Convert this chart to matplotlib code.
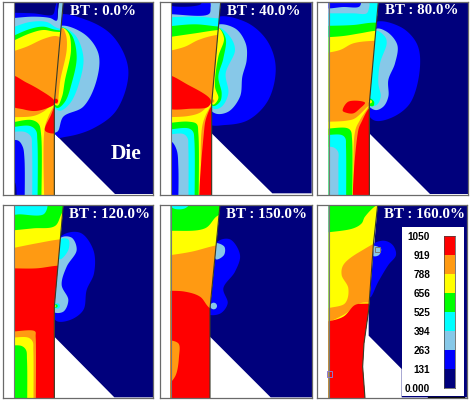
import numpy as np
import matplotlib
matplotlib.use("Agg")
import matplotlib.pyplot as plt
from matplotlib.patches import Polygon, Rectangle, Circle

W, H = 470, 401
LEVELS = [0.0, 131, 263, 394, 525, 656, 788, 919, 1050]
LEVEL_LABELS = ['0.000', '131', '263', '394', '525', '656', '788', '919', '1050']
COLORS = ['#00007c', '#0000ff', '#87c8e8', '#00ffff', '#00ff00', '#ffff00', '#ff9a12', '#ff0000']
NV, BL, LB, CY, GR, YE, OR, RE = range(8)

TITLES = ['BT : 0.0%', 'BT : 40.0%', 'BT : 80.0%', 'BT : 120.0%', 'BT : 150.0%', 'BT : 160.0%']
TITLE_POS = [(210, 34), (216, 34), (224, 32), (208, 44), (213, 43), (222, 44)]
CROPS = [(0, 0), (155, 0), (310, 0), (0, 200), (155, 200), (310, 200)]
FRAMES = [(8, 460, 5, 585), (14, 470, 5, 585), (22, 475, 5, 585),
          (8, 460, 15, 595), (14, 472, 15, 595), (22, 472, 15, 595)]

WP1 = [(42, 5), (190, 5), (163, 310), (163, 585), (42, 585)]
DIE1 = [(190, 5), (460, 5), (460, 582), (345, 582), (163, 400), (163, 310)]
WP_LAYERS1 = [
    ('b', BL, [(30, 38), (100, 40), (158, 44), (166, 20), (172, 0)]),
    ('b', LB, [(30, 55), (100, 50), (150, 54), (170, 62), (175, 25), (183, 0), (300, 0)]),
    ('b', CY, [(30, 85), (90, 66), (140, 66), (175, 85), (300, 92)]),
    ('b', GR, [(30, 112), (90, 87), (130, 80), (170, 90), (300, 94)]),
    ('b', YE, [(30, 127), (90, 100), (130, 90), (165, 95), (300, 100)]),
    ('b', OR, [(30, 157), (80, 140), (130, 117), (165, 108), (185, 112), (300, 130)]),
    ('b', YE, [(30, 352), (100, 348), (130, 335), (163, 310), (145, 350), (134, 385), (134, 700)]),
    ('b', GR, [(30, 368), (95, 360), (116, 372), (123, 400), (123, 700)]),
    ('b', CY, [(30, 382), (90, 378), (108, 392), (112, 420), (112, 700)]),
    ('b', LB, [(30, 396), (75, 396), (93, 410), (96, 440), (96, 700)]),
    ('b', BL, [(30, 420), (55, 422), (68, 440), (73, 470), (73, 700)]),
    ('b', NV, [(30, 540), (44, 545), (47, 700)]),
    ('o', RE, [(30, 226), (80, 248), (120, 270), (160, 298), (166, 310), (140, 325), (105, 333), (70, 328), (30, 314)]),
    ('o', RE, [(165, 320), (153, 345), (135, 392), (170, 398)]),
]
DIE_LAYERS1 = [
    ('o', BL, [(170, 48), (260, 60), (340, 110), (385, 210), (350, 330), (280, 385), (200, 410), (150, 410), (150, 200)]),
    ('o', LB, [(175, 80), (250, 100), (295, 160), (290, 240), (250, 320), (190, 350), (172, 395), (150, 395), (150, 200)]),
    ('o', CY, [(180, 82), (225, 105), (250, 170), (240, 240), (210, 310), (178, 332), (150, 300), (160, 150)]),
    ('o', GR, [(185, 83), (215, 105), (230, 170), (215, 250), (195, 305), (172, 324), (150, 300), (160, 150)]),
    ('o', YE, [(187, 84), (206, 100), (213, 150), (195, 240), (186, 290), (172, 317), (150, 290), (160, 150)]),
    ('o', OR, [(187, 84), (198, 105), (200, 150), (181, 240), (176, 285), (172, 312), (150, 290), (160, 150)]),
]
SPOTS1 = [(RE, 167, 303, 7)]

WP2 = [(48, 5), (197, 5), (170, 310), (170, 585), (48, 585)]
DIE2 = [(197, 5), (470, 5), (470, 580), (352, 580), (170, 400), (170, 310)]
WP_LAYERS2 = [
    ('b', BL, [(30, 0), (300, 0)]),
    ('o', NV, [(40, -5), (135, -5), (138, 12), (40, 14)]),
    ('b', LB, [(30, 42), (162, 42), (167, 20), (170, 0), (300, 0)]),
    ('b', CY, [(30, 52), (130, 50), (190, 55), (300, 56)]),
    ('b', GR, [(30, 80), (120, 73), (195, 80), (300, 84)]),
    ('b', YE, [(30, 113), (120, 100), (190, 90), (300, 85)]),
    ('b', OR, [(30, 156), (90, 140), (130, 120), (185, 105), (300, 100)]),
    ('b', YE, [(30, 352), (100, 348), (135, 338), (168, 312), (150, 350), (140, 390), (140, 700)]),
    ('b', GR, [(30, 370), (100, 365), (125, 372), (130, 400), (130, 700)]),
    ('b', CY, [(30, 390), (100, 385), (114, 395), (118, 420), (118, 700)]),
    ('b', LB, [(30, 405), (85, 402), (98, 415), (100, 440), (100, 700)]),
    ('b', BL, [(30, 420), (50, 425), (65, 450), (70, 500), (68, 700)]),
    ('o', RE, [(30, 226), (100, 255), (167, 300), (160, 320), (110, 326), (30, 320)]),
    ('o', RE, [(172, 318), (155, 350), (147, 395), (147, 700), (200, 700)]),
]
DIE_LAYERS2 = [
    ('o', BL, [(180, 55), (270, 65), (335, 120), (362, 200), (340, 300), (280, 360), (210, 375), (160, 370), (150, 200)]),
    ('o', LB, [(180, 78), (240, 85), (272, 130), (275, 180), (262, 230), (255, 290), (220, 335), (180, 340), (150, 300)]),
    ('o', CY, [(190, 84), (225, 110), (240, 150), (212, 220), (220, 280), (200, 320), (176, 326), (150, 250)]),
    ('o', GR, [(190, 84), (212, 115), (205, 175), (190, 230), (200, 280), (195, 305), (174, 318), (150, 250)]),
    ('o', YE, [(190, 84), (207, 115), (190, 170), (180, 260), (190, 295), (174, 314), (150, 250)]),
]
SPOTS2 = [(OR, 173, 303, 5)]

WP3 = [(56, 5), (205, 5), (178, 310), (178, 585), (56, 585)]
DIE3 = [(205, 5), (475, 5), (475, 582), (360, 582), (178, 400), (178, 310)]
WP_LAYERS3 = [
    ('b', LB, [(30, 0), (300, 0)]),
    ('o', BL, [(40, -5), (150, -5), (149, 19), (100, 21), (40, 22)]),
    ('b', CY, [(30, 40), (130, 40), (170, 40), (178, 20), (182, 0), (300, 0)]),
    ('b', GR, [(30, 78), (130, 75), (190, 68), (300, 75)]),
    ('b', YE, [(30, 113), (100, 108), (150, 100), (200, 92), (300, 92)]),
    ('b', OR, [(30, 162), (90, 150), (130, 130), (200, 122), (300, 122)]),
    ('b', YE, [(30, 366), (110, 362), (135, 355), (176, 318), (150, 360), (135, 395), (135, 700)]),
    ('b', GR, [(30, 388), (110, 384), (122, 392), (126, 415), (126, 700)]),
    ('b', CY, [(30, 407), (95, 405), (106, 415), (108, 440), (108, 700)]),
    ('b', LB, [(30, 442), (70, 442), (84, 455), (85, 490), (85, 700)]),
    ('o', RE, [(98, 332), (115, 305), (165, 308), (150, 325), (130, 340), (108, 338)]),
    ('o', RE, [(180, 325), (155, 365), (144, 395), (144, 700), (200, 700)]),
]
DIE_LAYERS3 = [
    ('o', BL, [(190, 70), (270, 80), (320, 130), (330, 200), (300, 310), (240, 355), (190, 360), (160, 300)]),
    ('o', LB, [(195, 88), (230, 95), (262, 135), (255, 190), (235, 240), (235, 290), (220, 320), (195, 330), (165, 300)]),
    ('o', CY, [(195, 92), (225, 110), (230, 130), (210, 190), (205, 250), (212, 290), (200, 315), (175, 316), (170, 200)]),
    ('o', GR, [(178, 295), (192, 305), (190, 318), (176, 315)]),
]
SPOTS3 = [(YE, 181, 305, 5)]

WP4 = [(42, 15), (190, 15), (163, 320), (163, 595), (42, 595)]
DIE4 = [(190, 15), (460, 15), (460, 592), (343, 592), (163, 410), (163, 320)]
WP_LAYERS4 = [
    ('b', GR, [(30, 0), (300, 0)]),
    ('o', CY, [(30, 5), (140, 5), (132, 42), (60, 43), (30, 42)]),
    ('b', YE, [(30, 92), (100, 85), (165, 78), (195, 30), (300, 30)]),
    ('b', OR, [(30, 146), (110, 130), (190, 117), (300, 115)]),
    ('b', RE, [(30, 205), (110, 205), (175, 197), (300, 197)]),
    ('b', OR, [(30, 395), (105, 394), (107, 410), (107, 700)]),
    ('b', YE, [(30, 413), (85, 413), (98, 425), (100, 450), (100, 700)]),
    ('b', GR, [(30, 436), (65, 438), (78, 450), (81, 480), (81, 700)]),
]
DIE_LAYERS4 = [
    ('o', BL, [(180, 112), (240, 98), (280, 150), (282, 220), (260, 270), (250, 330), (210, 360), (168, 362), (150, 300)]),
    ('o', LB, [(180, 115), (215, 113), (230, 150), (200, 200), (185, 255), (205, 300), (190, 335), (160, 335), (160, 250)]),
    ('o', CY, [(180, 118), (205, 118), (205, 150), (180, 178), (170, 150)]),
]
SPOTS4 = [(CY, 172, 318, 8), (GR, 168, 318, 5), (YE, 166, 318, 2.5)]

WP5 = [(47, 15), (195, 15), (165, 325), (165, 595), (47, 595)]
DIE5 = [(195, 15), (472, 15), (472, 592), (347, 592), (165, 410), (165, 325)]
WP_LAYERS5 = [
    ('b', GR, [(30, 0), (300, 0)]),
    ('o', CY, [(40, 5), (108, 5), (90, 25), (55, 25)]),
    ('b', YE, [(30, 93), (150, 85), (192, 45), (300, 40)]),
    ('b', OR, [(30, 168), (110, 155), (190, 135), (300, 125)]),
    ('b', RE, [(30, 272), (90, 275), (135, 290), (170, 328), (300, 340)]),
    ('o', OR, [(30, 425), (70, 430), (72, 470), (60, 530), (30, 558)]),
]
DIE_LAYERS5 = [
    ('o', BL, [(185, 127), (225, 118), (255, 165), (240, 215), (205, 265), (218, 310), (195, 341), (155, 340), (160, 230)]),
    ('o', LB, [(180, 130), (208, 140), (207, 165), (183, 178)]),
]
SPOTS5 = [(LB, 176, 318, 10)]

WP6 = [(56, 15), (203, 15), (190, 135), (176, 330), (162, 430), (158, 500), (165, 595), (56, 595)]
DIE6 = [(203, 15), (472, 15), (472, 592), (275, 592), (275, 507), (176, 407), (176, 330)]
WP_LAYERS6 = [
    ('b', GR, [(30, 0), (300, 0)]),
    ('b', YE, [(30, 100), (130, 85), (155, 70), (165, 50), (210, 10), (300, 0)]),
    ('o', OR, [(40, 367), (100, 345), (150, 310), (220, 300), (220, 128), (150, 155), (100, 195), (95, 225), (115, 265), (105, 310), (40, 332)]),
    ('b', RE, [(30, 370), (100, 350), (135, 315), (165, 311), (300, 320)]),
]
DIE_LAYERS6 = [
    ('o', BL, [(180, 140), (220, 122), (248, 135), (258, 165), (235, 195), (205, 245), (180, 292), (165, 220)]),
    ('o', LB, [(185, 138), (213, 146), (207, 165), (190, 168)]),
]
SPOTS6 = []

WPS = [WP1, WP2, WP3, WP4, WP5, WP6]
DIES = [DIE1, DIE2, DIE3, DIE4, DIE5, DIE6]
WP_LAYERS = [WP_LAYERS1, WP_LAYERS2, WP_LAYERS3, WP_LAYERS4, WP_LAYERS5, WP_LAYERS6]
DIE_LAYERS = [DIE_LAYERS1, DIE_LAYERS2, DIE_LAYERS3, DIE_LAYERS4, DIE_LAYERS5, DIE_LAYERS6]
SPOTS = [SPOTS1, SPOTS2, SPOTS3, SPOTS4, SPOTS5, SPOTS6]


def spline(pts, closed):
    # centripetal Catmull-Rom: passes through the points without overshoot
    p = np.array(pts, float)
    if len(p) < 3:
        return p
    if closed:
        p = np.vstack([p[-1], p, p[0], p[1]])
    else:
        p = np.vstack([2 * p[0] - p[1], p, 2 * p[-1] - p[-2]])
    out = []
    u = np.linspace(0, 1, 14, endpoint=False)[:, None]
    for i in range(1, len(p) - 2):
        a, b, c, d = p[i - 1], p[i], p[i + 1], p[i + 2]
        t0 = 0.0
        t1 = t0 + np.linalg.norm(b - a) ** 0.5
        t2 = t1 + np.linalg.norm(c - b) ** 0.5
        t3 = t2 + np.linalg.norm(d - c) ** 0.5
        t = t1 + u * (t2 - t1)
        a1 = (t1 - t) / (t1 - t0) * a + (t - t0) / (t1 - t0) * b
        a2 = (t2 - t) / (t2 - t1) * b + (t - t1) / (t2 - t1) * c
        a3 = (t3 - t) / (t3 - t2) * c + (t - t2) / (t3 - t2) * d
        b1 = (t2 - t) / (t2 - t0) * a1 + (t - t0) / (t2 - t0) * a2
        b2 = (t3 - t) / (t3 - t1) * a2 + (t - t1) / (t3 - t1) * a3
        out.append((t2 - t) / (t2 - t1) * b1 + (t - t1) / (t2 - t1) * b2)
    out.append(p[-2][None, :])
    return np.vstack(out)


def shape(kind, pts):
    if kind == 'o':
        return spline(pts, True)
    s = spline(pts, False)
    return np.vstack([s, [s[-1][0], 900], [s[0][0], 900]])


def draw_region(ax, outline, layers, spots):
    clip = Polygon(outline, closed=True, transform=ax.transData)
    ax.add_patch(Polygon(outline, closed=True, fc=COLORS[NV], ec='none', zorder=1))
    for z, (kind, lev, pts) in enumerate(layers):
        patch = Polygon(shape(kind, pts), closed=True, fc=COLORS[lev], ec='none', zorder=2 + z * 0.01)
        ax.add_patch(patch)
        patch.set_clip_path(clip)
    for z, (lev, x, y, r) in enumerate(spots):
        ax.add_patch(Circle((x, y), r, fc=COLORS[lev], ec='none', zorder=3 + z * 0.01))


fig = plt.figure(figsize=(W / 100, H / 100), dpi=100, facecolor='white')
for i in range(6):
    ox, oy = CROPS[i]
    x0, x1, y0, y1 = FRAMES[i]
    ax = fig.add_axes([(ox + x0 / 3) / W, 1 - (oy + y1 / 3) / H, (x1 - x0) / 3 / W, (y1 - y0) / 3 / H])
    ax.set_xlim(x0, x1)
    ax.set_ylim(y1, y0)
    ax.set_xticks([])
    ax.set_yticks([])
    for s in ax.spines.values():
        s.set_color('#6a6a6a')
        s.set_linewidth(0.9)
        s.set_zorder(8)
    draw_region(ax, DIES[i], DIE_LAYERS[i], [])
    draw_region(ax, WPS[i], WP_LAYERS[i], SPOTS[i])
    wp = np.array(WPS[i])
    ax.plot(wp[1:-1, 0], wp[1:-1, 1], color='#3a3a2a', lw=0.8, zorder=5)
    ax.plot(wp[[0, -1], 0], wp[[0, -1], 1], color='#777777', lw=0.8, zorder=5)
    tx, ty = TITLE_POS[i]
    ax.text(tx, ty, TITLES[i], color='white', family='Liberation Serif', weight='bold',
            fontsize=10.8, va='center', ha='left', zorder=9)
    if i == 0:
        ax.text(332, 461, 'Die', color='white', family='Liberation Serif', weight='bold',
                fontsize=15.5, va='center', ha='left', zorder=9)
    if i == 5:
        ax.add_patch(Rectangle((275, 82), 187, 506, fc='white', ec='none', zorder=6))
        ax.plot([355, 462], [590, 590], color='black', lw=1.0, zorder=7)
        ax.add_patch(Rectangle((50, 513), 17, 17, fc='none', ec='#8a7ad0', lw=0.7, zorder=7))
        ax.add_patch(Rectangle((194, 140), 17, 17, fc='none', ec='#777777', lw=0.7, zorder=7))
        # colour bar: x 402..434, y 107..565 in this panel's crop coordinates
        cb = fig.add_axes([(ox + 402 / 3) / W, 1 - (oy + 565 / 3) / H, 32 / 3 / W, 458 / 3 / H], zorder=10)
        cb.bar(0, np.diff(LEVELS), bottom=LEVELS[:-1], width=1, color=COLORS, align='edge')
        cb.set_xlim(0, 1)
        cb.set_ylim(LEVELS[0], LEVELS[-1])
        cb.set_xticks([])
        cb.set_yticks(LEVELS)
        cb.set_yticklabels(LEVEL_LABELS, family='Liberation Sans', weight='bold', fontsize=7.2)
        cb.tick_params(axis='y', length=0, pad=10)
        for s in cb.spines.values():
            s.set_color('#444444')
            s.set_linewidth(0.5)

fig.savefig('out.png', dpi=100, facecolor='white')
